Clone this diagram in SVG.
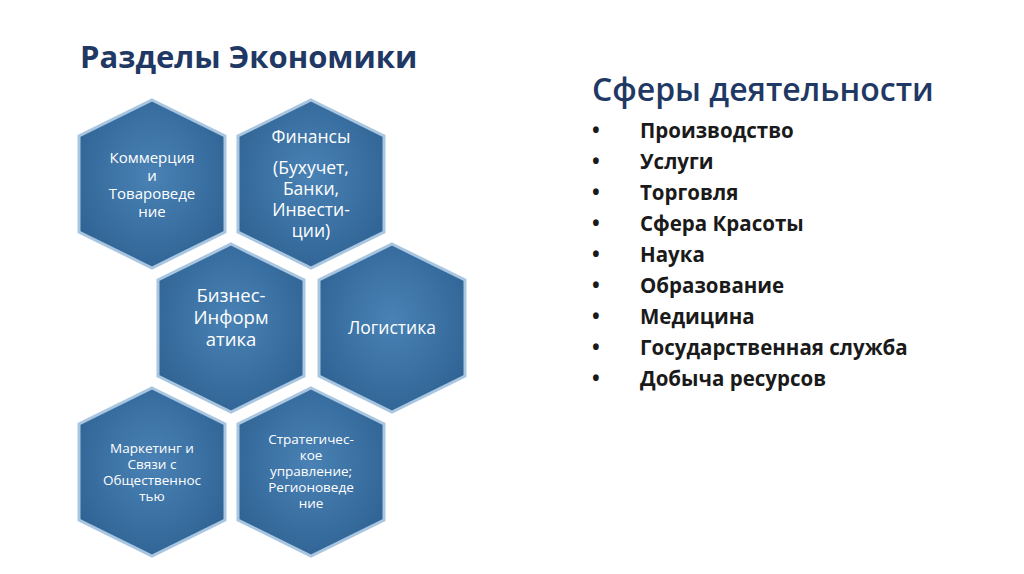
<svg xmlns="http://www.w3.org/2000/svg" width="1024" height="574" viewBox="0 0 1024 574">
<style>
.h{fill:url(#g);stroke:#a9c6e0;stroke-width:3}
.t{font-family:"Open Sans","Liberation Sans",sans-serif;fill:#fff;text-anchor:middle}
.s{font-size:15px}
.b{font-size:17.5px}
.m{font-size:13.5px}
.l{font-family:"Open Sans","Liberation Sans",sans-serif;font-size:20.5px;font-weight:bold;fill:#1a1a1a}
</style>
<defs>
<radialGradient id="g" cx="0.5" cy="0.45" r="0.6">
<stop offset="0" stop-color="#4a82b5"/><stop offset="1" stop-color="#2f6394"/>
</radialGradient>
<polygon id="hx" points="0,-84 73,-48 73,48 0,84 -73,48 -73,-48"/>
</defs>
<rect width="1024" height="574" fill="#fff"/>
<text x="80" y="68" font-family="Open Sans,Liberation Sans,sans-serif" font-size="31" font-weight="bold" fill="#1f3864">Разделы Экономики</text>
<text x="592" y="101" font-family="Open Sans,Liberation Sans,sans-serif" font-size="32" font-weight="600" fill="#1f3864">Сферы деятельности</text>
<g id="list">
<g class="l">
<text x="592" y="138">•</text><text x="640" y="138">Производство</text>
<text x="592" y="169">•</text><text x="640" y="169">Услуги</text>
<text x="592" y="200">•</text><text x="640" y="200">Торговля</text>
<text x="592" y="231">•</text><text x="640" y="231">Сфера Красоты</text>
<text x="592" y="262">•</text><text x="640" y="262">Наука</text>
<text x="592" y="293">•</text><text x="640" y="293">Образование</text>
<text x="592" y="324">•</text><text x="640" y="324">Медицина</text>
<text x="592" y="355">•</text><text x="640" y="355">Государственная служба</text>
<text x="592" y="386">•</text><text x="640" y="386">Добыча ресурсов</text>
</g></g>
<g id="connectors"/>
<g id="n1"><use href="#hx" class="h" transform="translate(152,184)"/>
<text class="t s" x="152" y="163">Коммерция</text><text class="t s" x="152" y="181">и</text><text class="t s" x="152" y="199">Товароведе</text><text class="t s" x="152" y="217">ние</text></g>
<g id="n2"><use href="#hx" class="h" transform="translate(311,184)"/>
<text class="t b" x="311" y="143">Финансы</text><text class="t b" x="311" y="174">(Бухучет,</text><text class="t b" x="311" y="195">Банки,</text><text class="t b" x="311" y="216">Инвести-</text><text class="t b" x="311" y="237">ции)</text></g>
<g id="n3"><use href="#hx" class="h" transform="translate(231,328)"/>
<text class="t" font-size="18.5" x="231" y="302">Бизнес-</text><text class="t" font-size="18.5" x="231" y="324">Информ</text><text class="t" font-size="18.5" x="231" y="346">атика</text></g>
<g id="n4"><use href="#hx" class="h" transform="translate(392,328)"/>
<text class="t b" x="392" y="334">Логистика</text></g>
<g id="n5"><use href="#hx" class="h" transform="translate(152,472)"/>
<text class="t m" x="152" y="453">Маркетинг и</text><text class="t m" x="152" y="469">Связи с</text><text class="t m" x="152" y="485">Общественнос</text><text class="t m" x="152" y="501">тью</text></g>
<g id="n6"><use href="#hx" class="h" transform="translate(311,472)"/>
<text class="t m" x="311" y="444">Стратегичес-</text><text class="t m" x="311" y="460">кое</text><text class="t m" x="311" y="476">управление;</text><text class="t m" x="311" y="492">Регионоведе</text><text class="t m" x="311" y="508">ние</text></g>
</svg>
